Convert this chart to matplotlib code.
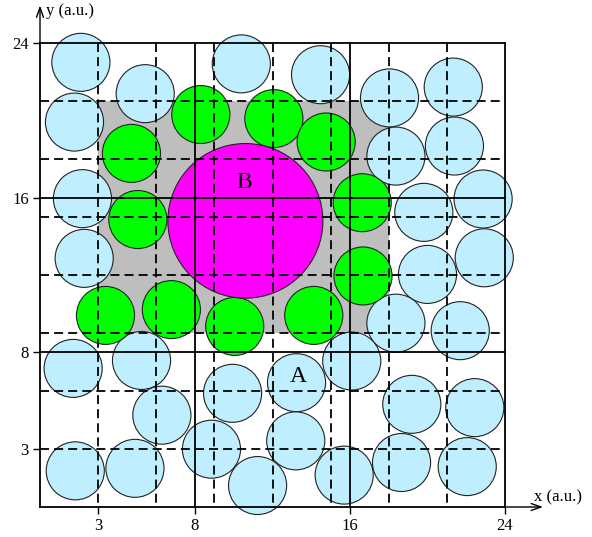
import matplotlib
matplotlib.use('Agg')
import matplotlib.pyplot as plt
from matplotlib.patches import Circle, Rectangle

plt.rcParams['font.family'] = ['Liberation Serif', 'DejaVu Serif']

# Centros de las esferas pequeñas (radio comun)
R_SMALL = 1.5
blue_x = [2.11, 1.78, 5.43, 10.39, 14.48, 18.04, 21.33, 18.37, 21.39, 2.19, 19.81,
          22.87, 2.28, 20.0, 22.93, 18.37, 21.69, 1.71, 5.24, 6.29, 1.82, 4.9,
          8.85, 9.94, 11.23, 13.24, 13.2, 15.7, 16.09, 19.19, 22.44, 18.66, 22.05]
blue_y = [23.0, 19.91, 21.38, 22.92, 22.36, 21.16, 21.72, 18.15, 18.67, 15.95, 15.24,
          15.93, 12.86, 12.03, 12.89, 9.51, 9.12, 7.17, 7.58, 4.75, 1.87, 2.0,
          2.99, 5.88, 1.11, 6.43, 3.42, 1.65, 7.55, 5.31, 5.14, 2.3, 2.09]

green_x = [4.72, 8.3, 12.07, 14.77, 5.05, 16.63, 16.67, 3.38, 6.78, 10.05, 14.13]
green_y = [18.29, 20.3, 20.09, 18.88, 14.87, 15.74, 11.95, 9.91, 10.21, 9.34, 9.91]

# Esfera grande B
big_center = (10.6, 14.8)
big_radius = 4.0

# Region sombreada
shade_x = (3, 18)
shade_y = (9, 21)

# Lineas de la rejilla
solid_lines = [0, 8, 16, 24]
dashed_lines = [3, 6, 9, 12, 15, 18, 21]
ticks = [3, 8, 16, 24]

labels = [('A', 13.33, 6.73), ('B', 10.54, 16.76)]

fig = plt.figure(figsize=(5.92, 5.37), dpi=100)
ax = fig.add_axes([40/592, 30/537, 465/592, 464/537])
ax.set_xlim(0, 24)
ax.set_ylim(0, 24)

# fondo gris
ax.add_patch(Rectangle((shade_x[0], shade_y[0]), shade_x[1]-shade_x[0], shade_y[1]-shade_y[0],
                       facecolor='#bebebe', edgecolor='none', zorder=1))

for x, y in zip(blue_x, blue_y):
    ax.add_patch(Circle((x, y), R_SMALL, facecolor='#bfefff', edgecolor='#222222',
                        lw=0.8, zorder=2, clip_on=False))
for x, y in zip(green_x, green_y):
    ax.add_patch(Circle((x, y), R_SMALL, facecolor='#00ff00', edgecolor='#222222',
                        lw=0.8, zorder=2, clip_on=False))
ax.add_patch(Circle(big_center, big_radius, facecolor='#ff00ff', edgecolor='#222222',
                    lw=0.8, zorder=2))

LW = 1.3
dash = (0, (5.0, 2.8))
for v in dashed_lines:
    ax.plot([v, v], [24, 0], color='black', lw=LW, linestyle=dash, zorder=3, clip_on=False)
    ax.plot([0, 24], [v, v], color='black', lw=LW, linestyle=dash, zorder=3, clip_on=False)
for v in solid_lines:
    ax.plot([v, v], [0, 24], color='black', lw=LW, zorder=3, clip_on=False)
    ax.plot([0, 24], [v, v], color='black', lw=LW, zorder=3, clip_on=False)

for name, x, y in labels:
    ax.text(x, y, name, fontsize=17, ha='center', va='center', zorder=4)

# ejes con flechas
ax.annotate('', xy=(25.96, 0), xytext=(24, 0), annotation_clip=False,
            arrowprops=dict(arrowstyle='->,head_length=0.7,head_width=0.25', lw=1.0, color='black',
                            shrinkA=0, shrinkB=0))
ax.annotate('', xy=(0, 25.94), xytext=(0, 24), annotation_clip=False,
            arrowprops=dict(arrowstyle='->,head_length=0.7,head_width=0.25', lw=1.0, color='black',
                            shrinkA=0, shrinkB=0))
ax.text(25.5, 0.52, 'x (a.u.)', fontsize=12, ha='left', va='center')
ax.text(0.31, 25.63, 'y (a.u.)', fontsize=12, ha='left', va='center')

for s in ax.spines.values():
    s.set_visible(False)
ax.set_xticks(ticks)
ax.set_yticks(ticks)
ax.tick_params(direction='out', length=5, width=1.0, labelsize=12, pad=3, colors='black')

fig.savefig('out.png', dpi=100)
